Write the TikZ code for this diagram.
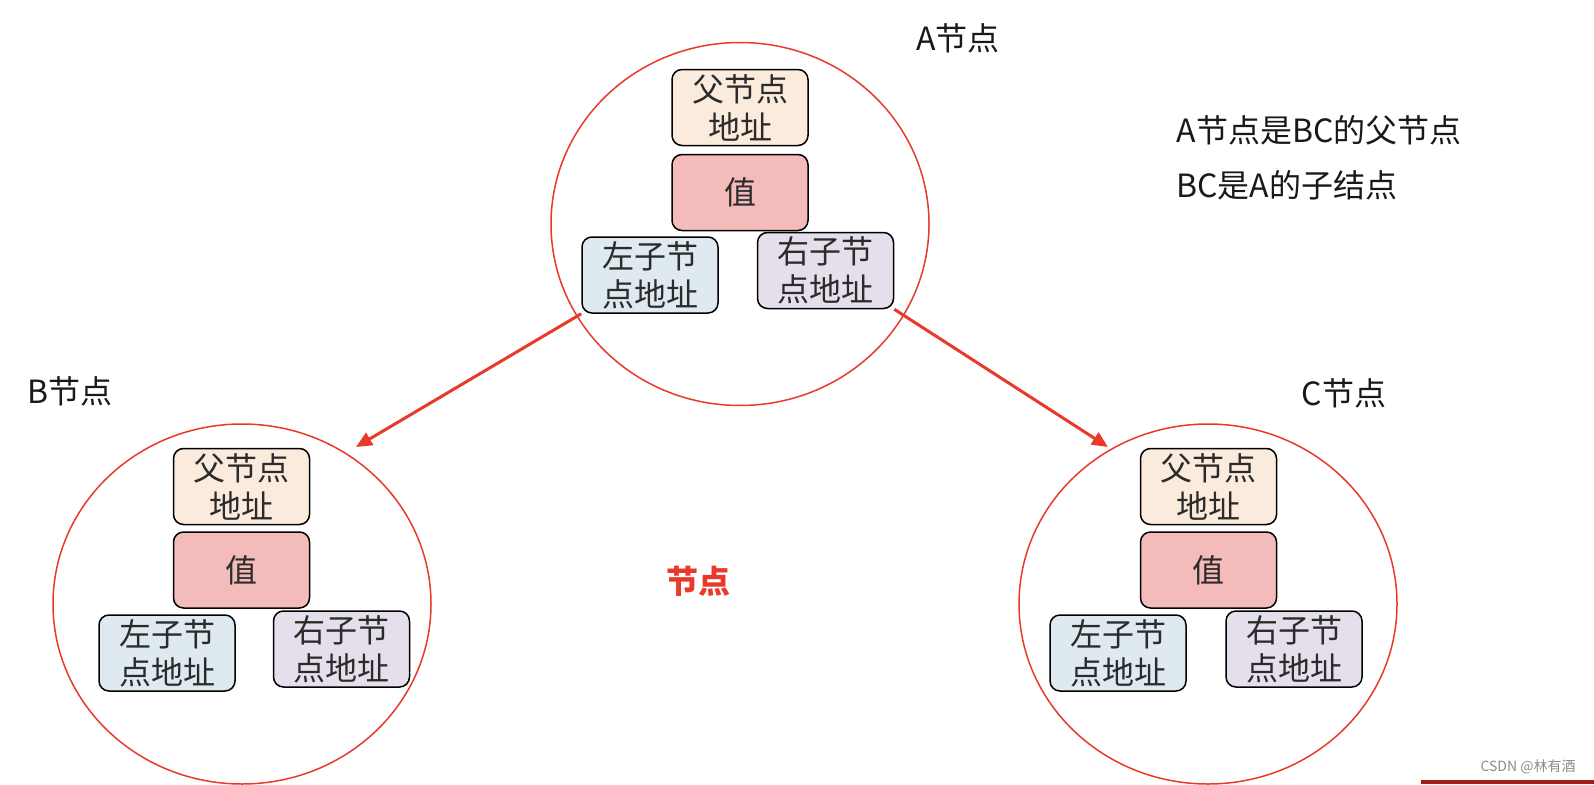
\documentclass[tikz,border=0pt]{standalone}
\usepackage{fontspec}
\newfontfamily\cjk{Noto Sans CJK SC}
\usetikzlibrary{arrows.meta,shapes.geometric}
\definecolor{nodered}{HTML}{E8392A}
\definecolor{parentfill}{HTML}{FBEBDD}
\definecolor{valuefill}{HTML}{F4BBBB}
\definecolor{leftfill}{HTML}{DEEAF0}
\definecolor{rightfill}{HTML}{E5DFEB}
\definecolor{txtgray}{HTML}{2B2B2B}
\definecolor{barred}{HTML}{A01C18}

\begin{document}
\begin{tikzpicture}[x=1pt,y=-1pt,
	field/.style={draw,line width=1.5pt,rounded corners=10pt,minimum width=136pt,minimum height=76pt,align=center,inner sep=0pt,text=txtgray,font=\cjk\fontsize{32}{38}\selectfont},
	ring/.style={ellipse,draw=nodered,line width=1.5pt,minimum width=378pt,minimum height=360pt,inner sep=0pt},
	lbl/.style={font=\cjk\fontsize{32}{36}\selectfont,text=black!90},
	link/.style={nodered,line width=3pt,-{Triangle[length=16pt,width=14pt]}}]
	\useasboundingbox (0,0) rectangle (1594,784);
	% A
	\node[ring,minimum height=363pt] (cA) at (740,224) {};
	\node[field,fill=parentfill] (aP) at (740,107.5) {父节点\\地址};
	\node[field,fill=valuefill] (aV) at (740,192.5) {值};
	\node[field,fill=leftfill] (aL) at (650,275) {左子节\\点地址};
	\node[field,fill=rightfill] (aR) at (825.5,270.5) {右子节\\点地址};
	\node[lbl] (tA) at (958,38) {A节点};
	% B
	\node[ring] (cB) at (242,604) {};
	\node[field,fill=parentfill] (bP) at (241.5,486.5) {父节点\\地址};
	\node[field,fill=valuefill] (bV) at (241.5,570) {值};
	\node[field,fill=leftfill] (bL) at (167,653) {左子节\\点地址};
	\node[field,fill=rightfill] (bR) at (341.5,649) {右子节\\点地址};
	\node[lbl] (tB) at (70,391) {B节点};
	% C
	\node[ring] (cC) at (1208,604) {};
	\node[field,fill=parentfill] (cP) at (1208.5,486.5) {父节点\\地址};
	\node[field,fill=valuefill] (cV) at (1208.5,570) {值};
	\node[field,fill=leftfill] (cL) at (1118,653) {左子节\\点地址};
	\node[field,fill=rightfill] (cR) at (1294,649) {右子节\\点地址};
	\node[lbl] (tC) at (1344,393) {C节点};
	% links
	\coordinate (toB) at (356,447);
	\coordinate (toC) at (1108,447);
	\draw[link] (aL.south west) -- (toB);
	\draw[link] (aR.south east) -- (toC);
	% notes
	\node[lbl,anchor=west] (n1) at (1173,130) {A节点是BC的父节点};
	\node[lbl,anchor=west] (n2) at (1173,185) {BC是A的子结点};
	\node[font=\cjk\bfseries\fontsize{32}{36}\selectfont,text=nodered] (mid) at (698,581) {节点};
	\node[font=\cjk\fontsize{14}{16}\selectfont,text=black!45] (mark) at (1528,767) {CSDN @林有酒};
	\fill[barred] (1421,780) rectangle (1594,784);
\end{tikzpicture}
\end{document}
